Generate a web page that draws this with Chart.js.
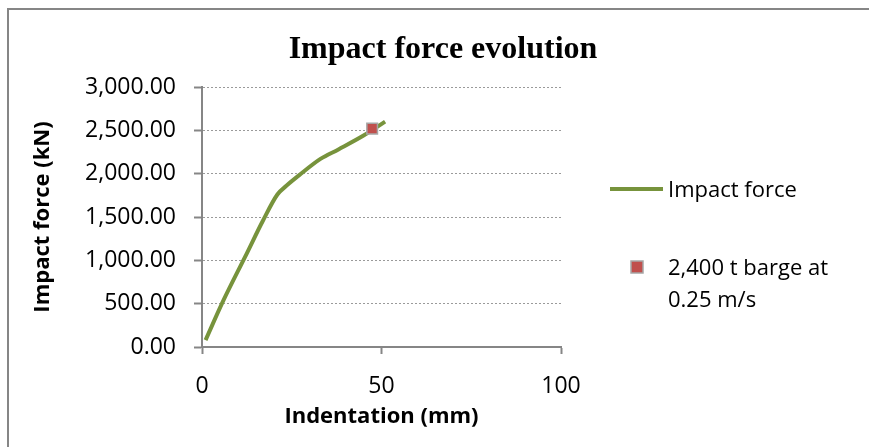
<!DOCTYPE html>
<html>
<head>
<meta charset="utf-8">
<script src="https://cdn.jsdelivr.net/npm/chart.js@4/dist/chart.umd.min.js"></script>
<style>
  html, body { margin: 0; padding: 0; background: #fff; }
  canvas { display: block; }
</style>
</head>
<body>
<canvas id="forceChart" width="869" height="447"></canvas>
<script>
// Force / indentation curve
const indentation = [1, 6, 12, 17, 21, 23.5, 27, 33, 38, 45, 51];
const impactForce = [80, 540, 1040, 1460, 1760, 1860, 1980, 2170, 2280, 2440, 2600];

// Single barge impact point
const bargeIndentation = [47.4];
const bargeForce = [2520];

// Axis ranges
const xTicks = [0, 50, 100];
const yMax = 3000;
const yStep = 500;

const chartTitle = 'Impact force evolution';
const legendLines = [['Impact force'], ['2,400 t barge at', '0.25 m/s']];

const lineGreen = '#77933c';
const markerRed = '#c0504d';
const axisGrey = '#868686';

const fmt = new Intl.NumberFormat('en-US', { minimumFractionDigits: 2, maximumFractionDigits: 2 });

// outer frame, title and the legend on the right
const decorations = {
  id: 'decorations',
  beforeDraw(chart) {
    const ctx = chart.ctx;
    ctx.save();
    ctx.fillStyle = '#fff';
    ctx.fillRect(0, 0, chart.width, chart.height);
    ctx.strokeStyle = axisGrey;
    ctx.lineWidth = 2;
    ctx.beginPath();
    ctx.moveTo(8, chart.height);
    ctx.lineTo(8, 9);
    ctx.lineTo(chart.width, 9);
    ctx.stroke();
    ctx.restore();
  },
  afterDraw(chart) {
    const ctx = chart.ctx;
    ctx.save();
    ctx.fillStyle = '#000';
    ctx.font = 'bold 32px "Liberation Serif"';
    ctx.textAlign = 'center';
    ctx.textBaseline = 'alphabetic';
    ctx.fillText(chartTitle, 443, 58);

    ctx.font = '22px "Open Sans"';
    ctx.textAlign = 'left';
    // line entry
    ctx.strokeStyle = lineGreen;
    ctx.lineWidth = 4;
    ctx.beginPath();
    ctx.moveTo(610, 189);
    ctx.lineTo(663, 189);
    ctx.stroke();
    ctx.fillText(legendLines[0][0], 668, 197);
    // marker entry
    ctx.fillStyle = markerRed;
    ctx.strokeStyle = '#a6a6a6';
    ctx.lineWidth = 1.5;
    ctx.fillRect(631, 261, 12, 12);
    ctx.strokeRect(631, 261, 12, 12);
    ctx.fillStyle = '#000';
    legendLines[1].forEach((t, i) => ctx.fillText(t, 668, 275 + i * 32));
    ctx.restore();
  }
};

new Chart(document.getElementById('forceChart'), {
  type: 'scatter',
  data: {
    datasets: [
      {
        label: legendLines[0].join(' '),
        data: indentation.map((x, i) => ({ x, y: impactForce[i] })),
        showLine: true,
        borderColor: lineGreen,
        borderWidth: 4,
        pointRadius: 0,
        cubicInterpolationMode: 'monotone',
        order: 2,
      },
      {
        label: legendLines[1].join(' '),
        data: bargeIndentation.map((x, i) => ({ x, y: bargeForce[i] })),
        pointStyle: 'rect',
        pointRadius: 7.5,
        backgroundColor: markerRed,
        borderColor: '#a6a6a6',
        borderWidth: 1.5,
        order: 1,
      },
    ],
  },
  options: {
    responsive: false,
    animation: false,
    layout: { padding: { top: 87, right: 308, left: 0, bottom: 0 } },
    plugins: {
      legend: { display: false },
      title: { display: false },
      tooltip: { enabled: false },
    },
    scales: {
      x: {
        type: 'linear',
        min: xTicks[0],
        max: xTicks[xTicks.length - 1],
        afterBuildTicks: (scale) => { scale.ticks = xTicks.map((v) => ({ value: v })); },
        afterFit: (scale) => { scale.height = 100; },
        grid: { drawOnChartArea: false, color: axisGrey, tickLength: 7, tickWidth: 2 },
        border: { color: axisGrey, width: 2 },
        ticks: { color: '#000', font: { family: 'Open Sans', size: 23 }, padding: 19, maxRotation: 0 },
        title: {
          display: true,
          text: 'Indentation (mm)',
          color: '#000',
          font: { family: 'Open Sans', size: 22, weight: 'bold' },
          padding: { top: 0, bottom: 17 },
        },
      },
      y: {
        min: 0,
        max: yMax,
        afterFit: (scale) => { scale.width = 202; },
        grid: { color: '#9a9a9a', lineWidth: 1, tickColor: axisGrey, tickLength: 8, tickWidth: 2 },
        border: { color: axisGrey, width: 2, dash: [2, 2] },
        ticks: {
          stepSize: yStep,
          color: '#000',
          font: { family: 'Open Sans', size: 23 },
          padding: 18,
          callback: (v) => fmt.format(v),
        },
        title: {
          display: true,
          text: 'Impact force (kN)',
          color: '#000',
          font: { family: 'Open Sans', size: 22, weight: 'bold' },
          padding: { top: 30, bottom: 0 },
        },
      },
    },
  },
  plugins: [decorations],
});
</script>
</body>
</html>
